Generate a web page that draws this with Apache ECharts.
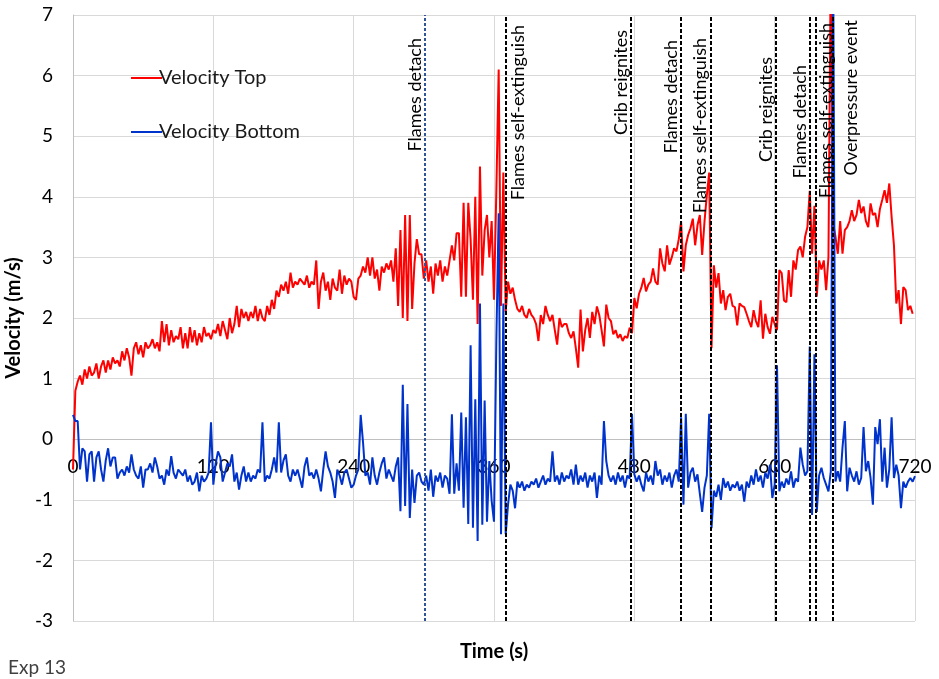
<!DOCTYPE html>
<html><head><meta charset="utf-8">
<script src="https://cdn.jsdelivr.net/npm/echarts@6/dist/echarts.min.js"></script>
<style>html,body{margin:0;padding:0;background:#fff}#c{width:939px;height:679px}</style>
</head><body><div id="c"></div>
<script>
// ---- data ----
const timeStep = 2; // seconds between samples, starting at 0 s
const xTicks = [0, 120, 240, 360, 480, 600, 720];
const yTicks = [-3, -2, -1, 0, 1, 2, 3, 4, 5, 6, 7];

const velocityTop = [
-0.5, 0.8, 0.95, 1.05, 0.9, 1.15, 1.0, 1.2, 1.05, 1.1,
1.25, 1.0, 1.2, 1.3, 1.1, 1.3, 1.15, 1.35, 1.25, 1.3,
1.2, 1.45, 1.3, 1.5, 1.35, 1.05, 1.5, 1.6, 1.4, 1.55,
1.35, 1.6, 1.5, 1.55, 1.65, 1.5, 1.6, 1.45, 1.95, 1.6,
1.9, 1.55, 1.8, 1.6, 1.7, 1.65, 1.85, 1.5, 1.75, 1.5,
1.85, 1.6, 1.8, 1.55, 1.75, 1.6, 1.85, 1.7, 1.75, 1.65,
1.8,
1.75, 1.9, 1.7, 1.95, 1.8, 1.65, 2.0, 1.75, 1.9, 2.2,
1.85, 2.15, 2.0, 2.1, 1.95, 2.1, 2.0, 2.2, 1.95, 2.15,
2.0, 1.95, 2.2, 2.05, 2.3, 2.15, 2.45, 2.35, 2.55, 2.45,
2.6, 2.4, 2.75, 2.5, 2.6, 2.55, 2.65, 2.6, 2.55, 2.7,
2.5, 2.6, 2.55, 2.95, 2.15, 2.6, 2.75, 2.45, 2.6, 2.3,
2.65, 2.5, 2.45, 2.8, 2.4, 2.7, 2.55, 2.65, 2.6, 2.35,
2.3, 2.65, 2.7, 2.85, 2.75, 3.0, 2.7, 3.0, 2.65, 2.8,
2.45, 2.85, 2.75, 2.9, 2.8, 2.95, 2.6, 3.15, 2.2, 3.45,
2.0, 3.7, 1.95, 3.7, 2.15, 2.9, 3.3, 3.05, 3.05, 2.65,
2.95, 2.6, 2.85, 2.4, 2.9, 2.7, 2.95, 2.6, 2.85, 2.7,
2.95, 3.2, 2.95, 3.4, 3.4, 2.35, 3.9, 2.35, 3.9, 3.3,
2.3, 4.0, 1.9, 4.5, 2.7, 3.45, 3.7, 3.0, 3.6, 2.3,
4.1, 6.1, 2.2, 4.4, 2.1, 2.6, 2.4, 2.5, 2.3, 2.15,
2.1, 2.2, 2.05, 2.0, 2.15, 2.05, 2.0, 1.9, 1.62, 2.05,
1.9, 2.2, 2.05, 1.95, 2.05, 1.8, 1.56, 2.0, 1.85, 1.9,
1.9, 1.75, 1.67, 1.78, 1.5, 1.18, 2.14, 1.45, 1.8, 2.0,
1.67, 2.1, 1.9, 2.19, 2.05, 1.8, 1.53, 2.22, 2.0, 1.95,
1.73, 1.8, 1.67, 1.73, 1.62, 1.7, 1.67, 1.84, 1.75, 2.33,
2.16, 2.4, 2.5, 2.66, 2.44, 2.55, 2.6, 2.82, 2.6, 2.55,
3.15, 2.9, 2.77, 3.2, 2.88, 3.0, 3.15, 3.1, 3.3, 3.59,
2.77, 3.2, 3.37, 3.48, 3.64, 3.2, 3.53, 3.7, 3.04, 3.59,
4.03, 4.4, 1.5,
2.87, 2.5, 2.74, 2.24, 2.46, 2.13, 2.35, 2.4, 2.2, 2.18,
1.88, 2.24, 2.2, 2.18, 2.07, 1.95, 1.85, 2.13, 1.95, 1.85,
2.29, 1.66, 2.07, 1.85, 1.74, 2.02, 1.9, 1.8, 2.79, 2.74,
2.29, 2.26, 2.79, 2.35, 2.95, 2.8, 3.12, 3.18, 3.0, 3.34,
3.5, 4.1, 3.06, 3.85, 2.35, 2.95, 2.8, 2.95, 2.46, 3.0,
8.0, 3.56, 3.34, 3.06, 3.6, 3.06, 3.45, 3.5, 3.6, 3.78,
3.6, 3.7, 3.95, 3.73, 3.84, 3.6, 3.5, 3.89, 3.7, 3.73,
3.5, 3.8, 3.95, 4.11, 3.9, 4.22, 3.67, 3.2, 2.24, 2.46,
1.9, 2.51, 2.46, 2.13, 2.2, 2.07
];

const velocityBottom = [
0.4, 0.3, 0.3, -0.5, -0.15, -0.2, -0.7, -0.25, -0.2, -0.7,
-0.3, -0.2, -0.5, -0.7, -0.35, -0.15, -0.45, -0.3, -0.3, -0.65,
-0.55, -0.5, -0.6, -0.45, -0.55, -0.25, -0.5, -0.6, -0.65, -0.45,
-0.8, -0.5, -0.5, -0.4, -0.55, -0.3, -0.45, -0.65, -0.6, -0.75,
-0.5, -0.6, -0.28, -0.55, -0.65, -0.5, -0.55, -0.6, -0.5, -0.7,
-0.6, -0.75, -0.7, -0.55, -0.86, -0.6, -0.7, -0.65, -0.55, 0.28,
-0.75, -0.4, -0.2, -0.3, -0.7, -0.55, -0.4, -0.45, -0.25, -0.7,
-0.55, -0.83, -0.6, -0.45, -0.7, -0.55, -0.7, -0.6, -0.65, -0.5,
-0.55,
0.28, -0.7, -0.6, -0.65, -0.5, -0.3, -0.55, 0.28, -0.55, -0.35,
-0.25, -0.6, -0.7, -0.5, -0.6, -0.5, -0.65, -0.8, -0.45, -0.3,
-0.6, -0.55, -0.65, -0.5, -0.65, -0.86, -0.5, -0.2, -0.45, -0.55,
-0.7, -0.97, -0.5, -0.6, -0.75, -0.55, -0.5, -0.65, -0.8, -0.75,
-0.6, -0.5, 0.4, -0.05, -0.6, -0.55, -0.75, -0.3, -0.6, -0.75,
-0.55, -0.4, -0.3, -0.65, -0.5, -0.6, -0.7, -0.45, -0.3, -1.19,
0.9, -1.1, 0.58, -1.3, -0.5, -1.05, -0.6, -0.55, -0.7, -0.75,
-0.6, -0.85, -0.5, -0.95, -0.6, -0.7, -0.55, -0.8, -0.6, -0.65,
-0.9, 0.41, -0.9, -0.4, -0.85, 0.44, -1.13, 0.36, -1.4, 1.55,
-1.46, 0.66, -1.68, 2.24, -1.41, 0.64, -1.36, -0.36, -1.02, -1.36,
1.63, 3.73, -1.57, 2.24, -1.57, -1.08, -0.75, -0.85, -1.14, -0.7,
-0.8, -0.7, -0.85, -0.75, -0.8, -0.7, -0.75, -0.65, -0.8, -0.7,
-0.6, -0.75, -0.65, -0.7, -0.2, -0.7, -0.6, -0.75, -0.55, -0.7,
-0.6, -0.65, -0.5, -0.75, -0.42, -0.75, -0.6, -0.7, -0.55, -0.8,
-0.6, -0.7, -0.55, -0.97, -0.6, -0.75, 0.3, -0.36, -0.6, -0.7,
-0.6, -0.75, -0.55, -0.7, -0.6, -0.8, -0.6, -0.65, 0.42, -0.58,
-0.7, -0.6, -0.75, -0.86, -0.55, -0.7, -0.6, -0.75, -0.36, -0.6,
-0.5, -0.75, -0.6, -0.7, -0.55, -0.8, -0.6, -0.5, -0.7, 0.36,
-1.08, 0.42, -0.8, -0.55, -0.47, -0.7, -0.58, -0.9, -1.2, -0.8,
-0.6, 0.42, -1.47,
-0.85, -0.95, -0.75, -1.0, -0.64, -0.8, -0.7, -0.85, -0.75, -0.8,
-0.7, -0.85, -0.75, -1.03, -0.7, -0.8, -0.6, -0.75, -0.5, -0.7,
-0.6, -0.8, -0.55, -0.65, -0.42, -0.97, -0.75, 1.22, -0.86, -0.7,
-0.8, -0.65, -0.75, -0.53, -0.8, -0.65, -0.7, -0.14, -0.42, -0.6,
-0.53, 1.53, -1.25, 1.4, -1.2, -0.6, -0.47, -0.64, -0.75, -0.86,
-0.53, 8.0, -0.7, -0.53, -0.7, -0.14, 0.3, -0.86, -0.47, -0.6,
-0.7, -0.53, -0.75, -0.64, 0.2, -0.53, -0.36, -0.64, -1.08, 0.2,
-0.08, 0.33, -0.7, -0.14, -0.8, -0.5, 0.36, -0.64, -0.42, -0.6,
-1.14, -0.7, -0.8, -0.7, -0.64, -0.7, -0.61
];

const eventTimes = [301, 370, 477, 520, 545, 601, 630, 635.5, 650];
const eventNames = ['Flames detach', 'Flames self-extinguish', 'Crib reignites',
  'Flames detach', 'Flames self-extinguish', 'Crib reignites',
  'Flames detach', 'Flames self-extinguish', 'Overpressure event'];

// ---- styling of the event annotations ----
const eventSide = ['L', 'R', 'L', 'L', 'L', 'L', 'L', 'R', 'R'];
const eventTopGap = [23, 10, 15, 25, 23, 42, 50, 8, 5];
const eventSideGap = [1, 3, 1, 1, 1, 1, 1, 1, 9];
const eventColor = ['#2F5597', '#000', '#000', '#000', '#000', '#000', '#000', '#000', '#000'];

const FONT = 'Lato, "Open Sans", sans-serif';

// plot geometry (pixels) used to put the horizontal axis at y = 0
const GRID_TOP = 15, GRID_BOTTOM = 58, CHART_H = 679;

function pairs(vals) { return vals.map((v, i) => [i * timeStep, v]); }

const yMin = yTicks[0], yMax = yTicks[yTicks.length - 1];
const plotH = CHART_H - GRID_TOP - GRID_BOTTOM;
const zeroOffset = -plotH * (0 - yMin) / (yMax - yMin);

const markData = eventTimes.map((t, i) => ({
  xAxis: t,
  lineStyle: { color: eventColor[i], type: i === 0 ? [3, 2] : [4, 2], width: 2 },
  label: {
    show: true,
    formatter: eventNames[i],
    position: eventSide[i] === 'L' ? 'insideEndTop' : 'insideEndBottom',
    distance: [eventTopGap[i], eventSideGap[i]],
    color: '#000',
    fontSize: 18,
    fontFamily: FONT
  }
}));

const chart = echarts.init(document.getElementById('c'), null, { renderer: 'canvas' });
chart.setOption({
  animation: false,
  backgroundColor: '#fff',
  title: {
    text: 'Exp 13', left: 3, top: 653,
    textStyle: { fontSize: 19, fontWeight: 'normal', color: '#404040', fontFamily: FONT }
  },
  legend: {
    orient: 'vertical', left: 125, top: 63, itemGap: 34, itemWidth: 31, itemHeight: 14,
    itemStyle: { opacity: 0 },
    textStyle: { fontSize: 20, color: '#1a1a1a', fontFamily: FONT, padding: [0, 0, 0, -8] },
    data: ['Velocity Top', 'Velocity Bottom']
  },
  grid: { left: 73, right: 24, top: GRID_TOP, bottom: GRID_BOTTOM, containLabel: false, outerBoundsMode: 'none' },
  xAxis: {
    type: 'value', min: xTicks[0], max: xTicks[xTicks.length - 1], interval: 120,
    position: 'bottom', offset: zeroOffset,
    name: 'Time (s)', nameLocation: 'middle', nameGap: 202,
    nameTextStyle: { fontSize: 20, fontWeight: 'bold', color: '#000', fontFamily: FONT },
    axisLine: { show: true, onZero: false, lineStyle: { color: '#bfbfbf', width: 1 } },
    axisTick: { show: false },
    axisLabel: { fontSize: 19, color: '#000', fontFamily: FONT, margin: 18 },
    splitLine: { show: true, lineStyle: { color: '#d9d9d9', width: 1 } }
  },
  yAxis: {
    type: 'value', min: yMin, max: yMax, interval: 1,
    name: 'Velocity (m/s)', nameLocation: 'middle', nameGap: 48,
    nameTextStyle: { fontSize: 20, fontWeight: 'bold', color: '#000', fontFamily: FONT },
    axisLine: { show: true, lineStyle: { color: '#bfbfbf', width: 1 } },
    axisTick: { show: false },
    axisLabel: { fontSize: 19, color: '#000', fontFamily: FONT, margin: 20 },
    splitLine: { show: true, lineStyle: { color: '#d9d9d9', width: 1 } }
  },
  series: [
    {
      name: 'Velocity Top', type: 'line', data: pairs(velocityTop),
      symbol: 'none', showSymbol: false, clip: true,
      lineStyle: { color: '#FF0000', width: 2 }, itemStyle: { color: '#FF0000' },
      emphasis: { disabled: true }
    },
    {
      name: 'Velocity Bottom', type: 'line', data: pairs(velocityBottom),
      symbol: 'none', showSymbol: false, clip: true,
      lineStyle: { color: '#0033CC', width: 2 }, itemStyle: { color: '#0033CC' },
      emphasis: { disabled: true },
      markLine: { symbol: ['none', 'none'], silent: true, animation: false, data: markData }
    }
  ]
});
</script></body></html>
